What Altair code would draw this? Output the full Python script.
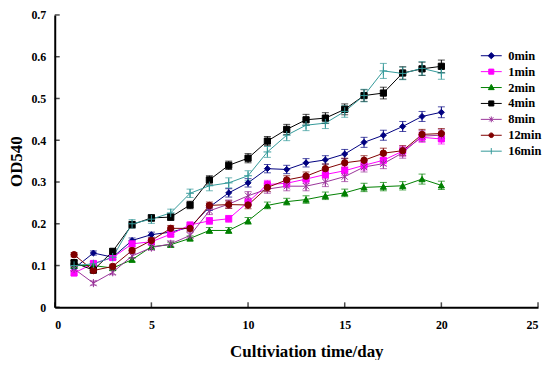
import altair as alt
import pandas as pd

days = list(range(1, 21))
series = ["0min", "1min", "2min", "4min", "8min", "12min", "16min"]

v0 = [0.093, 0.130, 0.120, 0.160, 0.174, 0.180, 0.192, 0.240, 0.274, 0.298,
      0.332, 0.330, 0.346, 0.353, 0.367, 0.395, 0.412, 0.433, 0.457, 0.467]
v1 = [0.082, 0.105, 0.119, 0.152, 0.157, 0.175, 0.197, 0.207, 0.212, 0.252,
      0.294, 0.297, 0.307, 0.318, 0.327, 0.340, 0.352, 0.374, 0.407, 0.403]
v2 = [0.100, 0.100, 0.094, 0.114, 0.145, 0.150, 0.165, 0.184, 0.184, 0.207,
      0.244, 0.253, 0.258, 0.267, 0.274, 0.287, 0.289, 0.291, 0.307, 0.292]
v4 = [0.107, 0.089, 0.134, 0.198, 0.214, 0.216, 0.245, 0.305, 0.340, 0.357,
      0.398, 0.426, 0.449, 0.453, 0.474, 0.507, 0.513, 0.561, 0.571, 0.577]
v8 = [0.092, 0.058, 0.084, 0.123, 0.143, 0.152, 0.172, 0.231, 0.247, 0.267,
      0.283, 0.290, 0.290, 0.300, 0.313, 0.336, 0.344, 0.370, 0.410, 0.412]
v12 = [0.126, 0.088, 0.098, 0.136, 0.160, 0.189, 0.189, 0.244, 0.246, 0.245,
       0.287, 0.305, 0.314, 0.332, 0.346, 0.352, 0.369, 0.375, 0.414, 0.416]
v16 = [0.100, 0.104, 0.120, 0.200, 0.211, 0.226, 0.273, 0.291, 0.298, 0.315,
       0.372, 0.412, 0.436, 0.441, 0.469, 0.507, 0.566, 0.560, 0.572, 0.561]

e0 = [0.005, 0.005, 0.005, 0.006, 0.006, 0.006, 0.007, 0.008, 0.010, 0.010,
      0.010, 0.010, 0.010, 0.010, 0.011, 0.012, 0.012, 0.012, 0.012, 0.013]
e1 = [0.005, 0.005, 0.005, 0.006, 0.006, 0.006, 0.007, 0.008, 0.008, 0.009,
      0.010, 0.010, 0.010, 0.010, 0.011, 0.011, 0.012, 0.012, 0.012, 0.012]
e2 = [0.004, 0.004, 0.005, 0.005, 0.005, 0.006, 0.006, 0.007, 0.007, 0.008,
      0.008, 0.008, 0.009, 0.009, 0.009, 0.010, 0.010, 0.010, 0.012, 0.010]
e4 = [0.005, 0.005, 0.006, 0.008, 0.008, 0.008, 0.009, 0.010, 0.010, 0.011,
      0.011, 0.012, 0.013, 0.013, 0.013, 0.014, 0.014, 0.015, 0.016, 0.015]
e8 = [0.005, 0.005, 0.006, 0.006, 0.006, 0.007, 0.008, 0.009, 0.010, 0.010,
      0.010, 0.011, 0.011, 0.011, 0.012, 0.012, 0.012, 0.013, 0.013, 0.013]
e12 = [0.005, 0.005, 0.005, 0.006, 0.006, 0.007, 0.007, 0.008, 0.009, 0.009,
       0.010, 0.010, 0.010, 0.011, 0.011, 0.011, 0.012, 0.012, 0.012, 0.012]
e16 = [0.005, 0.006, 0.007, 0.010, 0.010, 0.009, 0.010, 0.012, 0.012, 0.012,
       0.013, 0.013, 0.013, 0.013, 0.014, 0.015, 0.018, 0.015, 0.016, 0.015]

values = [v0, v1, v2, v4, v8, v12, v16]
errors = [e0, e1, e2, e4, e8, e12, e16]
colors = ["#000080", "#FF00FF", "#008000", "#000000", "#993399", "#800000", "#339999"]

x_ticks = [0, 5, 10, 15, 20, 25]
y_ticks = [0, 0.1, 0.2, 0.3, 0.4, 0.5, 0.6, 0.7]

rows = []
for s, vals, errs in zip(series, values, errors):
    for d, v, e in zip(days, vals, errs):
        rows.append({"series": s, "day": d, "od": v, "lo": v - e, "hi": v + e})
df = pd.DataFrame(rows)

FONT = "Liberation Serif"
XT = "Cultiviation time/day"
YT = "OD540"
xscale = alt.Scale(domain=[0, 25], nice=False)
yscale = alt.Scale(domain=[0, 0.7], nice=False)
xaxis = alt.Axis(values=x_ticks, format="d", labelPadding=12, titlePadding=13,
                 titleFontSize=17, titleX=253)
yaxis = alt.Axis(values=y_ticks, format="~g", labelPadding=9, titlePadding=5,
                 titleFontSize=17)

cscale = alt.Scale(domain=series, range=colors)
color = alt.Color("series:N", scale=cscale, legend=None)

asterisk = "M-1,-1L1,1M-1,1L1,-1M0,-1.3V1.3"
plus = "M-1.2,0H1.2M0,-1.3V1.3"
plot_shapes = ["diamond", "square", "triangle-up", "square", asterisk, "circle", plus]
plot_sizes = [36, 42, 36, 46, 36, 30, 36]

leg_shapes = [
    "M-1.4,0H1.4M0,-0.42L0.42,0L0,0.42L-0.42,0Z",
    "M-1.4,0H1.4M-0.34,-0.34H0.34V0.34H-0.34Z",
    "M-1.4,0H1.4M0,-0.42L0.39,0.28L-0.39,0.28Z",
    "M-1.4,0H1.4M-0.34,-0.34H0.34V0.34H-0.34Z",
    "M-1.4,0H1.4M-0.28,-0.28L0.28,0.28M-0.28,0.28L0.28,-0.28M0,-0.39V0.39",
    "M-1.4,0H1.4M-0.31,0A0.31,0.31 0 1,0 0.31,0A0.31,0.31 0 1,0 -0.31,0Z",
    "M-1.4,0H1.4M0,-0.42V0.42",
]

base = alt.Chart(df)
X = alt.X("day:Q", scale=xscale, axis=xaxis, title=XT)
Y = alt.Y("od:Q", scale=yscale, axis=yaxis, title=YT)

lines = base.mark_line(strokeWidth=1).encode(x=X, y=Y, color=color, detail="series:N")
bars = base.mark_rule(strokeWidth=1).encode(
    x=X, y=alt.Y("lo:Q", scale=yscale, title=YT), y2="hi:Q", color=color)
cap_lo = base.mark_tick(orient="horizontal", size=7, thickness=1).encode(
    x=X, y=alt.Y("lo:Q", scale=yscale, title=YT), color=color)
cap_hi = base.mark_tick(orient="horizontal", size=7, thickness=1).encode(
    x=X, y=alt.Y("hi:Q", scale=yscale, title=YT), color=color)
points = base.mark_point(filled=True, strokeWidth=1, opacity=1).encode(
    x=X, y=Y, color=color,
    stroke=alt.Stroke("series:N", scale=cscale, legend=None),
    shape=alt.Shape("series:N", scale=alt.Scale(domain=series, range=plot_shapes), legend=None),
    size=alt.Size("series:N", scale=alt.Scale(domain=series, range=plot_sizes), legend=None),
)

xt_df = pd.DataFrame({"t": x_ticks, "z": [0] * len(x_ticks)})
yt_df = pd.DataFrame({"t": y_ticks, "z": [0] * len(y_ticks)})
xt = alt.Chart(xt_df).mark_tick(orient="vertical", size=5, thickness=1.5, yOffset=-2.5,
                                color="black").encode(
    x=alt.X("t:Q", scale=xscale, title=XT), y=alt.Y("z:Q", scale=yscale, title=YT))
yt = alt.Chart(yt_df).mark_tick(orient="horizontal", size=5, thickness=1.5, xOffset=2.5,
                                color="black").encode(
    x=alt.X("z:Q", scale=xscale, title=XT), y=alt.Y("t:Q", scale=yscale, title=YT))

leg = alt.Legend(orient="none", legendX=431, legendY=33, title=None,
                 labelFont=FONT, labelFontWeight="bold", labelFontSize=12.5,
                 labelColor="black", symbolSize=225, symbolStrokeWidth=1,
                 symbolOpacity=1, rowPadding=1, labelOffset=9)
legend_layer = base.transform_filter("datum.day < 0").mark_point(
    filled=True, size=225, strokeWidth=1, opacity=1).encode(
    x=X, y=Y,
    fill=alt.Fill("series:N", scale=alt.Scale(domain=series, range=colors), legend=leg),
    stroke=alt.Stroke("series:N", scale=alt.Scale(domain=series, range=colors), legend=leg),
    shape=alt.Shape("series:N", scale=alt.Scale(domain=series, range=leg_shapes), legend=leg),
)

chart = alt.layer(lines, bars, cap_lo, cap_hi, points, xt, yt, legend_layer).resolve_scale(
    shape="independent", stroke="independent", fill="independent"
).properties(
    width=486, height=294, padding={"left": 0, "top": 0, "right": 0, "bottom": 0}
).configure_view(stroke=None).configure_axis(
    grid=False, domainColor="black", domainWidth=2, ticks=False,
    labelFont=FONT, labelFontWeight="bold", labelFontSize=12, labelColor="black",
    titleFont=FONT, titleFontWeight="bold", titleColor="black",
)

chart.save("out.html", embed_options={"renderer": "svg", "actions": False})
